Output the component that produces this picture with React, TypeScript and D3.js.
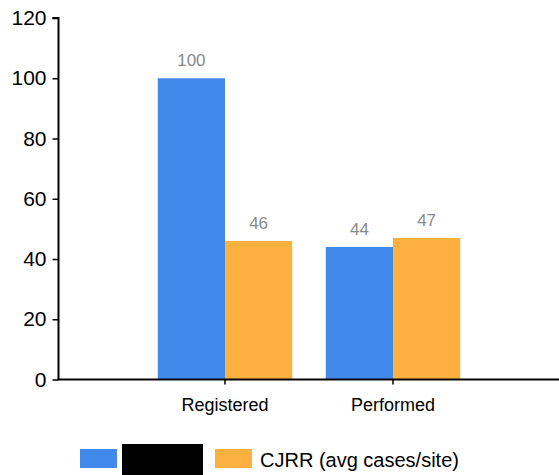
import { useRef, useEffect } from 'react';
import * as d3 from 'd3';

const categories = ['Registered', 'Performed'];
const seriesNames = ['', 'CJRR (avg cases/site)'];
const seriesColors = ['#418AEC', '#FBB040'];
const blueValues = [100, 44];
const orangeValues = [46, 47];
const yTicks = [0, 20, 40, 60, 80, 100, 120];

export default function App() {
  const svgRef = useRef<SVGSVGElement>(null);

  useEffect(() => {
    document.body.style.margin = '0';
    if (!svgRef.current) return;

    const width = 559;
    const height = 475;
    const axisX = 58.5;
    const font = '"Liberation Sans", Arial, sans-serif';

    const svg = d3.select(svgRef.current)
      .attr('width', width)
      .attr('height', height)
      .style('display', 'block')
      .style('font-family', font);

    svg.selectAll('*').remove();

    const x0 = d3.scaleBand()
      .domain(categories)
      .range([141, 477])
      .paddingInner(0.2)
      .paddingOuter(0.1);

    const x1 = d3.scaleBand()
      .domain(['0', '1'])
      .range([0, x0.bandwidth()]);

    const y = d3.scaleLinear()
      .domain([0, 120])
      .range([379.5, 18]);

    const series = [blueValues, orangeValues];

    // bars
    series.forEach((vals, si) => {
      svg.append('g')
        .selectAll('rect')
        .data(vals)
        .join('rect')
        .attr('x', (_, i) => x0(categories[i])! + x1(String(si))!)
        .attr('y', d => y(d))
        .attr('width', x1.bandwidth())
        .attr('height', d => y(0) - y(d))
        .attr('fill', seriesColors[si]);

      svg.append('g')
        .selectAll('text')
        .data(vals)
        .join('text')
        .attr('x', (_, i) => x0(categories[i])! + x1(String(si))! + x1.bandwidth() / 2)
        .attr('y', d => y(d) - 12)
        .attr('text-anchor', 'middle')
        .attr('font-size', 17)
        .attr('fill', '#8a8a8a')
        .text(d => d);
    });

    // y axis
    const yAxis = d3.axisLeft(y)
      .tickValues(yTicks)
      .tickSize(6)
      .tickPadding(6);

    const gy = svg.append('g')
      .attr('transform', `translate(${axisX},0)`)
      .call(yAxis);
    gy.select('.domain').attr('stroke', '#000').attr('stroke-width', 2).attr('d', `M-6,${y(120)}H0V${y(0)}`);
    gy.selectAll('.tick line').attr('stroke', '#000').attr('stroke-width', 1.5);
    gy.selectAll('.tick text')
      .attr('font-size', 21)
      .attr('font-family', font)
      .attr('fill', '#000');

    // x axis
    const gx = svg.append('g')
      .attr('transform', `translate(0,${y(0)})`)
      .call(d3.axisBottom(x0).tickSize(5).tickPadding(14));
    gx.select('.domain').attr('stroke', '#000').attr('stroke-width', 2).attr('d', `M${axisX - 1},0H${width}`);
    gx.selectAll('.tick line').attr('stroke', '#000').attr('stroke-width', 1.5);
    gx.selectAll('.tick text')
      .attr('font-size', 18)
      .attr('font-family', font)
      .attr('fill', '#000');

    // legend
    const legend = svg.append('g');
    legend.append('rect')
      .attr('x', 80).attr('y', 449).attr('width', 37).attr('height', 19)
      .attr('fill', seriesColors[0]);
    legend.append('rect')
      .attr('x', 122).attr('y', 444).attr('width', 81).attr('height', 31)
      .attr('fill', '#000');
    legend.append('rect')
      .attr('x', 215).attr('y', 449).attr('width', 37).attr('height', 19)
      .attr('fill', seriesColors[1]);
    legend.append('text')
      .attr('x', 260).attr('y', 467)
      .attr('font-size', 20)
      .attr('fill', '#000')
      .text(seriesNames[1]);
  }, []);

  return <svg ref={svgRef}></svg>;
}
